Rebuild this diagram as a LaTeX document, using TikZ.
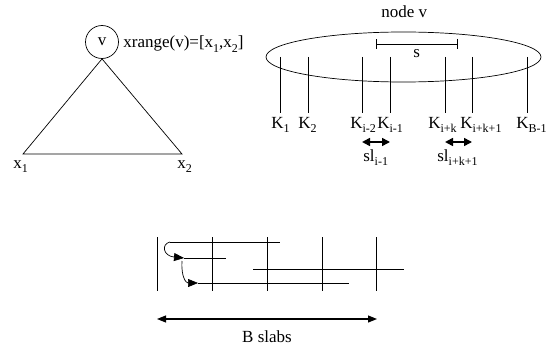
\documentclass[tikz,border=0pt]{standalone}
\usepackage{fontspec}
\setmainfont{Liberation Serif}
\usetikzlibrary{arrows.meta, positioning}
\newcommand{\sbs}[1]{\raisebox{-4.5pt}{\fontsize{12}{12}\selectfont #1}}

\begin{document}
\begin{tikzpicture}[x=1pt, y=-1pt, line width=0.7pt,
    txt/.style={inner sep=0pt, anchor=base west, font=\fontsize{17}{20}\selectfont},
    tip/.style={-{Triangle[length=10pt, width=8pt]}}]
    \useasboundingbox (0,0) rectangle (553,350);

    % ---- ALBERO ----
    \node[draw, circle, minimum size=33pt, inner sep=0pt,
          font=\fontsize{17}{20}\selectfont] (v) at (102,42) {v};
    \node[txt] (xr) at (123,48) {xrange(v)=[x\sbs{1},x\sbs{2}]};
    \coordinate (tl) at (23,154);
    \coordinate (tr) at (182,154);
    \draw (v.south) -- (tl) -- (tr) -- cycle;
    \node[txt] (x1) at (13,168) {x\sbs{1}};
    \node[txt] (x2) at (177,168) {x\sbs{2}};

    % ---- NODO v ----
    \node[txt] (nv) at (381,18) {node v};
    \draw (403.5,57) ellipse [x radius=137.5pt, y radius=25pt];
    \coordinate (sa) at (376,44);
    \coordinate (sb) at (458,44);
    \draw[{Bar[width=10pt]}-{Bar[width=10pt]}] (sa) -- (sb);
    \node[txt] (s) at (413,58) {s};
    % chiavi
    \foreach \kx/\kl/\ks in {280/271/1, 308/298/2, 362/350/i-2, 390/377/i-1,
                             445/428/i+k, 472/460/i+k+1, 527/516/B-1} {
        \draw (\kx,57) -- (\kx,113);
        \node[txt] at (\kl,128) {K\sbs{\ks}};
    }
    % slab
    \coordinate (a1) at (362,142);
    \coordinate (a2) at (390,142);
    \coordinate (b1) at (445,142);
    \coordinate (b2) at (472,142);
    \draw[line width=1.6pt, {Triangle[length=8pt, width=8pt]}-{Triangle[length=8pt, width=8pt]}] (a1) -- (a2);
    \draw[line width=1.6pt, {Triangle[length=8pt, width=8pt]}-{Triangle[length=8pt, width=8pt]}] (b1) -- (b2);
    \node[txt] (sl1) at (363,161) {sl\sbs{i-1}};
    \node[txt] (sl2) at (437,161) {sl\sbs{i+k+1}};

    % ---- B SLABS ----
    \foreach \sx in {157,212,267,322,376}
        \draw (\sx,237) -- (\sx,291);
    \coordinate (h1s) at (170,242);
    \coordinate (h1e) at (280,242);
    \coordinate (h2s) at (184,258);
    \coordinate (h2e) at (226,258);
    \coordinate (h3s) at (253,269);
    \coordinate (h3e) at (404,269);
    \coordinate (h4s) at (198,283);
    \coordinate (h4e) at (349,283);
    \draw (h1s) -- (h1e);
    \draw (h2s) -- (h2e);
    \draw (h3s) -- (h3e);
    \draw (h4s) -- (h4e);
    \draw[tip] (h1s) .. controls (161,244) and (163,256) .. (h2s);
    \draw[tip] (182,261) .. controls (181,277) and (186,283) .. (h4s);

    \coordinate (bl) at (157,319);
    \coordinate (br) at (377,319);
    \draw[line width=1.1pt, {Triangle[length=9pt, width=7pt]}-{Triangle[length=9pt, width=7pt]}] (bl) -- (br);
    \node[txt, anchor=base] (bs) at (267,342) {B slabs};
\end{tikzpicture}
\end{document}
